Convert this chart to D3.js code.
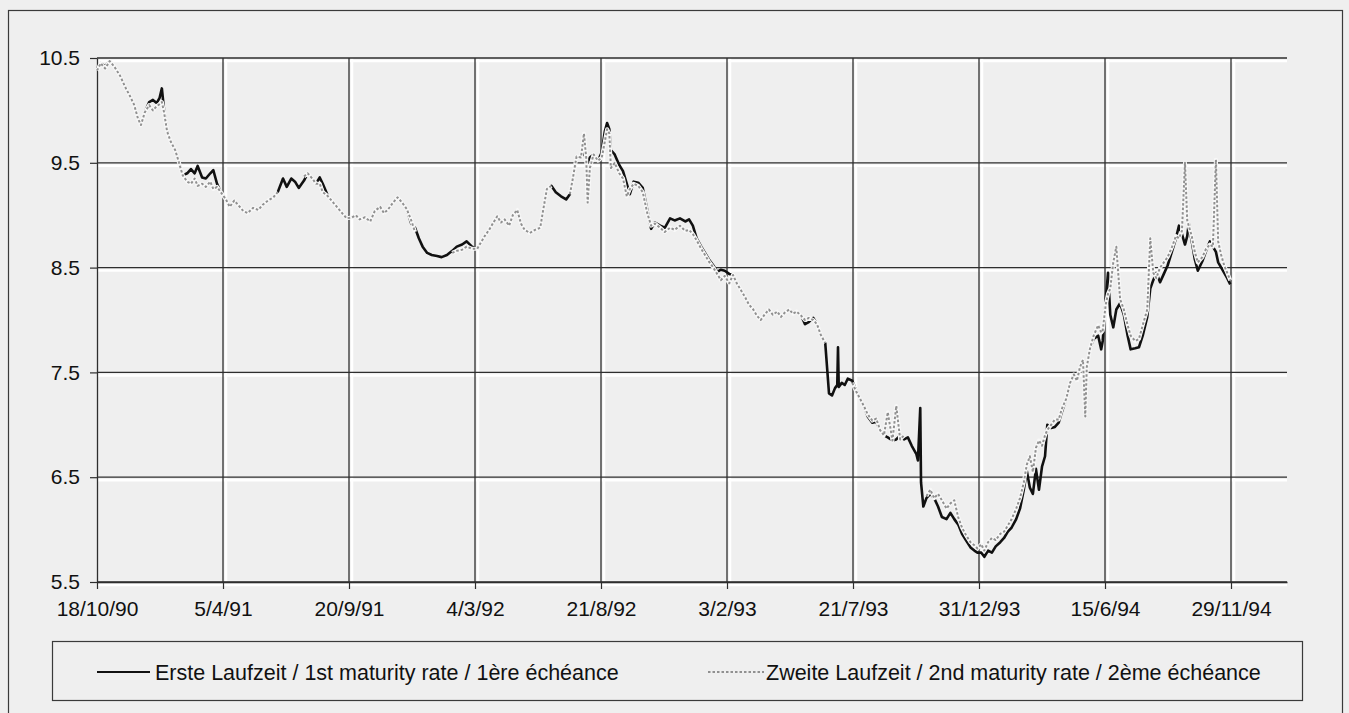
<!DOCTYPE html>
<html>
<head>
<meta charset="utf-8">
<script src="https://cdn.jsdelivr.net/npm/d3@7"></script>
<style>
  html, body { margin: 0; padding: 0; background: #efefef; }
  svg { display: block; font-family: Arial, "Liberation Sans", sans-serif; }
</style>
</head>
<body>
<svg id="chart" width="1349" height="713"></svg>
<script>
// Axis tick dates (every 120 trading days) and the end of the time axis
const tickDates = ["1990-10-18","1991-04-05","1991-09-20","1992-03-04","1992-08-21",
                   "1993-02-03","1993-07-21","1993-12-31","1994-06-15","1994-11-29"];
const axisEnd = "1995-02-11";
const yTicks = [5.5, 6.5, 7.5, 8.5, 9.5, 10.5];

const seriesLabels = [
  "Erste Laufzeit / 1st maturity rate / 1ère échéance",
  "Zweite Laufzeit / 2nd maturity rate / 2ème échéance"
];

// Observation dates
const dates = [
  "1990-10-18","1990-10-23","1990-10-29","1990-11-04","1990-11-10","1990-11-18","1990-11-25","1990-12-01","1990-12-07","1990-12-12",
  "1990-12-16","1990-12-21","1990-12-27","1991-01-01","1991-01-06","1991-01-10","1991-01-13","1991-01-16","1991-01-20","1991-01-25",
  "1991-01-31","1991-02-05","1991-02-10","1991-02-16","1991-02-21","1991-02-26","1991-03-02","1991-03-08","1991-03-13","1991-03-19",
  "1991-03-23","1991-03-28","1991-04-02",
  "1991-04-09","1991-04-14","1991-04-20","1991-04-25","1991-05-02","1991-05-08","1991-05-15","1991-05-22","1991-05-28","1991-06-04",
  "1991-06-11","1991-06-17","1991-06-24","1991-06-29","1991-07-05","1991-07-10","1991-07-15","1991-07-22","1991-07-27","1991-08-02",
  "1991-08-07","1991-08-12","1991-08-16","1991-08-23","1991-08-30","1991-09-05","1991-09-12","1991-09-17",
  "1991-09-24","1991-09-29","1991-10-04","1991-10-11","1991-10-18","1991-10-24","1991-10-31","1991-11-05","1991-11-10","1991-11-17",
  "1991-11-23","1991-11-29","1991-12-05","1991-12-11","1991-12-16","1991-12-21","1991-12-26","1992-01-01","1992-01-07","1992-01-14",
  "1992-01-20","1992-01-27","1992-02-03","1992-02-09","1992-02-16","1992-02-22","1992-02-29",
  "1992-03-07","1992-03-12","1992-03-17","1992-03-23","1992-03-28","1992-04-03","1992-04-08","1992-04-13","1992-04-19","1992-04-24",
  "1992-04-30","1992-05-05","1992-05-10","1992-05-17","1992-05-24","1992-05-31","1992-06-04","1992-06-09","1992-06-15","1992-06-21",
  "1992-06-28","1992-07-05","1992-07-10","1992-07-14","1992-07-19","1992-07-25","1992-07-29","1992-08-01","1992-08-03","1992-08-06",
  "1992-08-11","1992-08-17",
  "1992-08-22","1992-08-26","1992-08-29","1992-09-01","1992-09-03","1992-09-08","1992-09-14","1992-09-19","1992-09-24","1992-09-28",
  "1992-10-03","1992-10-09","1992-10-15","1992-10-21","1992-10-26","1992-10-31","1992-11-07","1992-11-13","1992-11-20","1992-11-26",
  "1992-12-03","1992-12-10","1992-12-15","1992-12-20","1992-12-25","1992-12-31","1993-01-05","1993-01-10","1993-01-16","1993-01-21",
  "1993-01-26","1993-01-31",
  "1993-02-06","1993-02-11","1993-02-16","1993-02-22","1993-02-27","1993-03-04","1993-03-10","1993-03-15","1993-03-20","1993-03-26",
  "1993-03-31","1993-04-05","1993-04-11","1993-04-16","1993-04-21","1993-04-27","1993-05-02","1993-05-07","1993-05-13","1993-05-18",
  "1993-05-23","1993-05-29","1993-06-03","1993-06-08","1993-06-14","1993-06-19","1993-06-23","1993-06-27","1993-06-30","1993-07-01",
  "1993-07-02","1993-07-06","1993-07-10","1993-07-14","1993-07-20",
  "1993-07-25","1993-07-30","1993-08-04","1993-08-09","1993-08-15","1993-08-20","1993-08-25","1993-08-30","1993-09-04","1993-09-10",
  "1993-09-15","1993-09-20","1993-09-25","1993-09-30","1993-10-05","1993-10-11","1993-10-13","1993-10-16","1993-10-17","1993-10-20",
  "1993-10-24","1993-10-29","1993-11-03","1993-11-08","1993-11-13","1993-11-19","1993-11-24","1993-11-29","1993-12-04","1993-12-09",
  "1993-12-14","1993-12-20","1993-12-25","1993-12-29",
  "1994-01-03","1994-01-07","1994-01-12","1994-01-17","1994-01-22","1994-01-28","1994-02-02","1994-02-07","1994-02-12","1994-02-18",
  "1994-02-23","1994-02-28","1994-03-04","1994-03-08","1994-03-12","1994-03-16","1994-03-20","1994-03-24","1994-03-28","1994-03-31",
  "1994-04-05","1994-04-10","1994-04-15","1994-04-19","1994-04-25","1994-04-30","1994-05-05","1994-05-09","1994-05-13","1994-05-17",
  "1994-05-20","1994-05-22","1994-05-26","1994-05-31","1994-06-06","1994-06-10","1994-06-12",
  "1994-06-16","1994-06-19","1994-06-22","1994-06-26","1994-06-30","1994-07-05","1994-07-10","1994-07-15","1994-07-19","1994-07-25",
  "1994-07-30","1994-08-04","1994-08-10","1994-08-14","1994-08-18","1994-08-22","1994-08-27","1994-09-01","1994-09-06","1994-09-12",
  "1994-09-17","1994-09-21","1994-09-25","1994-09-29","1994-10-02","1994-10-04","1994-10-08","1994-10-12","1994-10-16","1994-10-22",
  "1994-10-27","1994-11-01","1994-11-05","1994-11-09","1994-11-12","1994-11-16","1994-11-20","1994-11-24","1994-11-28"
];

// 1st maturity rate (%)
const firstRate = [
  10.40,10.45,10.42,10.47,10.42,10.33,10.22,10.14,10.05,9.92,
  9.86,9.98,10.08,10.10,10.07,10.12,10.21,10.00,9.80,9.70,
  9.62,9.50,9.38,9.40,9.44,9.40,9.47,9.36,9.35,9.40,
  9.43,9.30,9.22,
  9.15,9.08,9.14,9.10,9.04,9.02,9.07,9.05,9.10,9.14,
  9.17,9.22,9.35,9.27,9.35,9.32,9.26,9.33,9.40,9.35,
  9.30,9.36,9.30,9.18,9.12,9.07,9.01,8.97,
  8.98,9.00,8.96,8.98,8.94,9.04,9.08,9.02,9.05,9.12,
  9.17,9.12,9.06,8.92,8.88,8.78,8.70,8.64,8.62,8.61,
  8.60,8.62,8.66,8.70,8.72,8.75,8.70,
  8.68,8.74,8.80,8.86,8.92,8.99,8.93,8.96,8.90,9.00,
  9.05,8.92,8.86,8.83,8.86,8.88,9.05,9.25,9.28,9.22,
  9.18,9.15,9.20,9.35,9.56,9.55,9.60,9.55,9.50,9.55,
  9.58,9.52,
  9.60,9.80,9.88,9.82,9.62,9.58,9.48,9.42,9.30,9.20,
  9.32,9.31,9.26,9.05,8.87,8.93,8.90,8.88,8.97,8.95,
  8.97,8.94,8.96,8.90,8.78,8.70,8.64,8.58,8.52,8.46,
  8.48,8.47,
  8.44,8.43,8.35,8.28,8.22,8.15,8.10,8.04,8.00,8.06,
  8.10,8.05,8.08,8.03,8.07,8.10,8.06,8.08,8.04,7.96,
  7.98,8.02,7.96,7.86,7.78,7.30,7.28,7.35,7.38,7.74,
  7.36,7.40,7.38,7.44,7.42,
  7.33,7.25,7.18,7.08,7.02,7.03,6.95,6.90,6.88,6.85,
  6.86,6.90,6.86,6.88,6.80,6.72,6.66,7.16,6.45,6.22,
  6.30,6.34,6.30,6.22,6.12,6.10,6.16,6.10,6.05,5.96,
  5.90,5.83,5.80,5.78,
  5.78,5.74,5.80,5.78,5.84,5.88,5.92,5.98,6.02,6.10,
  6.20,6.38,6.56,6.40,6.34,6.58,6.38,6.60,6.70,7.00,
  6.97,6.98,7.02,7.12,7.25,7.40,7.48,7.42,7.55,7.62,
  7.08,7.55,7.72,7.82,7.85,7.72,7.80,
  8.20,8.45,8.05,7.93,8.10,8.16,8.05,7.85,7.72,7.73,
  7.74,7.85,8.03,8.30,8.38,8.45,8.36,8.44,8.52,8.66,
  8.78,8.90,8.82,8.72,8.80,8.92,8.75,8.58,8.47,8.56,
  8.66,8.75,8.70,8.65,8.55,8.50,8.45,8.40,8.34
];

// 2nd maturity rate (%); null where no quote is plotted
const secondRate = [
  10.38,10.45,10.40,10.47,10.42,10.33,10.22,10.14,10.05,9.92,
  9.86,9.98,10.05,10.00,10.04,10.06,10.08,9.98,9.80,9.70,
  9.62,9.50,9.38,9.32,9.30,9.35,9.28,9.30,9.27,9.32,
  9.25,9.27,9.22,
  9.15,9.08,9.14,9.10,9.04,9.02,9.07,9.05,9.10,9.14,
  9.17,9.22,null,null,null,null,null,9.37,9.40,9.35,
  9.30,9.30,9.22,9.18,9.12,9.07,9.01,8.97,
  8.98,9.00,8.96,8.98,8.94,9.04,9.08,9.02,9.05,9.12,
  9.17,9.12,9.06,8.95,8.84,null,null,null,null,null,
  null,null,8.64,8.66,8.67,8.70,8.68,
  8.68,8.74,8.80,8.86,8.92,8.99,8.93,8.96,8.90,9.00,
  9.05,8.92,8.86,8.83,8.86,8.88,9.05,9.25,9.28,null,
  null,null,9.20,9.35,9.56,9.55,9.78,9.55,9.12,9.45,
  9.58,9.52,
  9.55,9.70,9.82,9.78,9.45,9.50,9.40,9.35,9.18,9.25,
  9.30,9.28,9.22,9.02,8.90,8.92,8.88,8.84,8.88,8.86,
  8.90,8.85,8.86,8.82,8.76,8.68,8.62,8.56,8.50,8.44,
  8.38,8.42,
  8.35,8.43,8.35,8.28,8.22,8.15,8.10,8.04,8.00,8.06,
  8.10,8.05,8.08,8.03,8.07,8.10,8.06,8.08,8.04,8.00,
  8.02,8.00,7.96,7.86,7.78,null,null,null,null,null,
  null,null,null,null,7.40,
  7.32,7.25,7.18,7.10,7.04,7.06,6.95,6.90,7.12,6.85,
  7.18,6.86,6.90,null,null,null,null,null,null,null,
  6.32,6.38,6.30,6.34,6.28,6.20,6.25,6.28,6.12,6.02,
  5.95,5.88,5.85,5.82,
  5.86,5.80,5.88,5.92,5.90,5.96,5.98,6.04,6.10,6.20,
  6.30,6.45,6.62,6.70,6.55,6.78,6.85,6.80,6.90,6.95,
  7.00,7.05,7.05,7.15,7.25,7.40,7.48,7.42,7.55,7.62,
  7.08,7.55,7.72,7.85,7.95,7.88,7.90,
  8.15,8.25,8.30,8.55,8.70,8.20,8.10,7.95,7.85,7.80,
  7.82,7.95,8.10,8.78,8.45,8.40,8.50,8.55,8.60,8.70,
  8.80,8.78,8.85,9.50,8.95,8.90,8.80,8.65,8.55,8.60,
  8.68,8.72,8.70,9.53,8.75,8.62,8.52,8.45,8.38
];

const parse = d3.timeParse("%Y-%m-%d");
const plot = { left: 97, top: 58, right: 1287, bottom: 582 };
const step = 126;
const gridDark = "#2e2e2e";
const fontStack = "Arial, 'Liberation Sans', sans-serif";

const svg = d3.select("#chart");

// Outer chart frame
svg.append("rect")
  .attr("x", 8.5).attr("y", 10.5)
  .attr("width", 1334).attr("height", 740)
  .attr("fill", "#efefef")
  .attr("stroke", "#3a3a3a").attr("stroke-width", 1.2);

// Category-style time axis: ticks evenly spaced, dates interpolated between them
const tickD = tickDates.map(parse);
const x = d3.scaleTime()
  .domain([...tickD, parse(axisEnd)])
  .range([...tickD.map((d, i) => plot.left + i * step), plot.right]);
const y = d3.scaleLinear().domain([5.5, 10.5]).range([plot.bottom, plot.top]);

// Gridlines: dark rule with a white edge beside it
const grid = svg.append("g");
grid.selectAll(".hw").data(yTicks).join("line")
  .attr("x1", plot.left).attr("x2", plot.right)
  .attr("y1", d => y(d) + 3).attr("y2", d => y(d) + 3)
  .attr("stroke", "#ffffff").attr("stroke-width", 2.5);
grid.selectAll(".vw").data(tickD.slice(1)).join("line")
  .attr("x1", d => x(d) + 3).attr("x2", d => x(d) + 3)
  .attr("y1", plot.top).attr("y2", plot.bottom)
  .attr("stroke", "#ffffff").attr("stroke-width", 2.5);
grid.selectAll(".hd").data(yTicks).join("line")
  .attr("x1", plot.left).attr("x2", plot.right)
  .attr("y1", d => y(d)).attr("y2", d => y(d))
  .attr("stroke", gridDark).attr("stroke-width", 1.3);
grid.selectAll(".vd").data(tickD.slice(1)).join("line")
  .attr("x1", d => x(d)).attr("x2", d => x(d))
  .attr("y1", plot.top).attr("y2", plot.bottom)
  .attr("stroke", gridDark).attr("stroke-width", 1.3);

// Axes
const xAxis = svg.append("g")
  .attr("transform", `translate(0,${plot.bottom})`)
  .call(d3.axisBottom(x).tickValues(tickD)
    .tickFormat(d3.timeFormat("%-d/%-m/%y"))
    .tickSize(7).tickSizeOuter(0).tickPadding(12));
const yAxis = svg.append("g")
  .attr("transform", `translate(${plot.left},0)`)
  .call(d3.axisLeft(y).tickValues(yTicks)
    .tickFormat(d3.format(".1f"))
    .tickSize(7).tickSizeOuter(0).tickPadding(10));
[xAxis, yAxis].forEach(g => {
  g.select(".domain").attr("stroke", gridDark).attr("stroke-width", 1.3);
  g.selectAll(".tick line").attr("stroke", gridDark).attr("stroke-width", 1.2);
  g.selectAll(".tick text").attr("fill", "#111").style("font-size", "21px")
    .style("font-family", fontStack);
});

// Series
const rows = dates.map((d, i) => ({ date: parse(d), first: firstRate[i], second: secondRate[i] }));
const lineFirst = d3.line()
  .defined(d => d.first != null)
  .x(d => x(d.date)).y(d => y(d.first));
const lineSecond = d3.line()
  .defined(d => d.second != null)
  .x(d => x(d.date)).y(d => y(d.second));

svg.append("path").datum(rows)
  .attr("d", lineFirst)
  .attr("fill", "none").attr("stroke", "#111")
  .attr("stroke-width", 2.6).attr("stroke-linejoin", "round");
svg.append("path").datum(rows)
  .attr("d", lineSecond)
  .attr("fill", "none").attr("stroke", "#f8f8f8")
  .attr("stroke-width", 4).attr("stroke-linejoin", "round");
svg.append("path").datum(rows)
  .attr("d", lineSecond)
  .attr("fill", "none").attr("stroke", "#909090")
  .attr("stroke-width", 2).attr("stroke-dasharray", "2.5,2")
  .attr("stroke-linejoin", "round");

// Legend
const legend = svg.append("g");
legend.append("rect")
  .attr("x", 52.5).attr("y", 641.5).attr("width", 1250).attr("height", 59)
  .attr("fill", "#efefef").attr("stroke", "#3a3a3a").attr("stroke-width", 1.2);
const legendItems = [
  { x1: 97, x2: 150, tx: 155, label: seriesLabels[0], stroke: "#111", dash: null, w: 2.2 },
  { x1: 708, x2: 764, tx: 766, label: seriesLabels[1], stroke: "#909090", dash: "2.5,2", w: 1.8 }
];
legendItems.forEach(it => {
  legend.append("line")
    .attr("x1", it.x1).attr("x2", it.x2).attr("y1", 672).attr("y2", 672)
    .attr("stroke", it.stroke).attr("stroke-width", it.w)
    .attr("stroke-dasharray", it.dash);
  legend.append("text")
    .attr("x", it.tx).attr("y", 672).attr("dy", "0.35em")
    .attr("fill", "#111").style("font-size", "21.5px")
    .style("font-family", fontStack)
    .text(it.label);
});
</script>
</body>
</html>
